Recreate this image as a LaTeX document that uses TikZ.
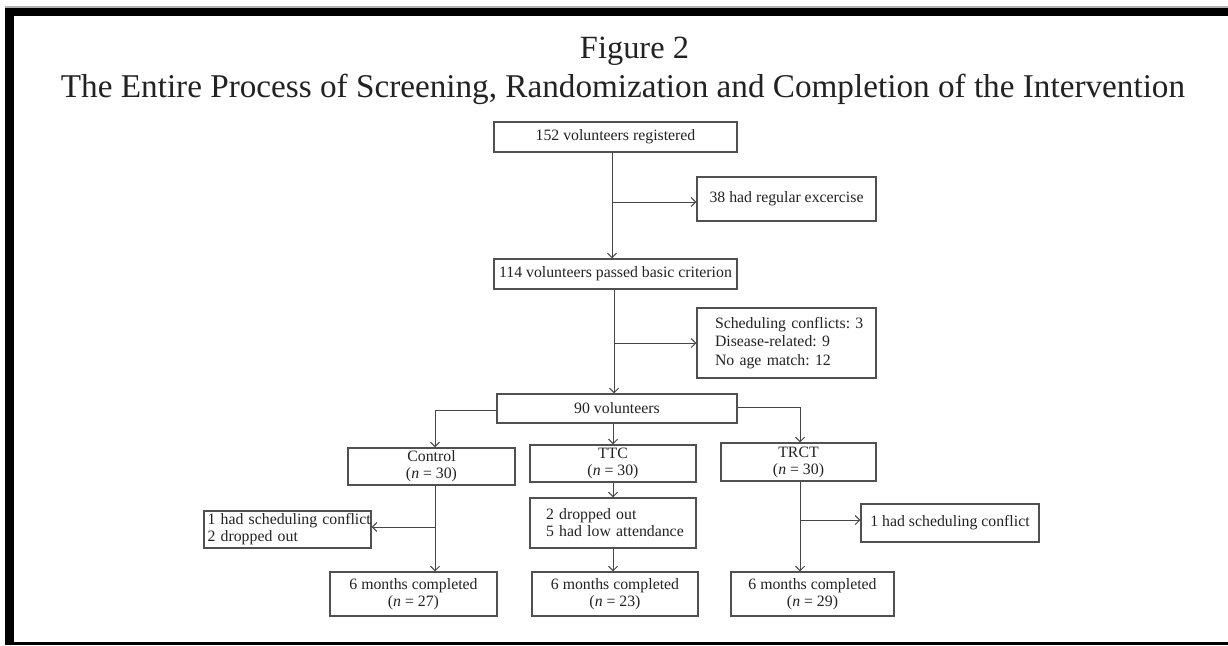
\documentclass[tikz,border=0pt]{standalone}
\usepackage{fontspec}
\setmainfont{Liberation Serif}
\usetikzlibrary{arrows.meta}
\definecolor{boxline}{HTML}{505050}
\definecolor{conline}{HTML}{454545}
\definecolor{txt}{HTML}{222222}
\newcommand{\ind}[1]{\hspace*{#1}}
\tikzset{
  box/.style={draw=boxline, line width=1.2pt, inner sep=0pt, text=txt,
    font=\fontsize{15.8}{17}\selectfont\frenchspacing, align=center},
  lbox/.style={box, align=left, inner xsep=0pt},
  con/.style={draw=conline, line width=1pt},
  arr/.style={con, -{Straight Barb[length=4.5pt,width=9pt]}},
}
\begin{document}
\begin{tikzpicture}[x=1pt,y=-1pt]
\useasboundingbox (0,0) rectangle (1228,645);
% frame
\fill[gray!60] (5,6) rectangle (1228,645);
\fill[black] (5,7.5) rectangle (1228,645);
\fill[white] (13.5,16) rectangle (1228,642);
% titles
\node[anchor=base, text=txt, inner sep=0pt] (fig) at (634.5,58) {\resizebox{109pt}{!}{Figure 2}};
\node[anchor=base, text=txt, inner sep=0pt] (title) at (623,97) {\resizebox{1124pt}{!}{The Entire Process of Screening, Randomization and Completion of the Intervention}};
% boxes
\node[box, minimum width=243pt, minimum height=30pt] (reg) at (615.5,137) {152 volunteers registered};
\node[box, minimum width=179pt, minimum height=44pt] (exc) at (786.5,199) {38 had regular excercise};
\node[box, minimum width=243pt, minimum height=30pt] (pass) at (615.5,274) {114 volunteers passed basic criterion};
\node[lbox, text width=179pt, minimum height=70pt, font=\fontsize{15.8}{18.5}\selectfont\frenchspacing] (sched) at (786.5,343) {\ind{18pt}Scheduling conflicts: 3\\\ind{18pt}Disease-related: 9\\\ind{18pt}No age match: 12};
\node[box, minimum width=240pt, minimum height=29pt] (ninety) at (617,408.5) {90 volunteers};
\node[box, minimum width=167pt, minimum height=37pt] (ctrl) at (431.5,466.5) {Control\\(\textit{n} = 30)};
\node[box, minimum width=166pt, minimum height=37pt] (ttc) at (613,463.5) {TTC\\(\textit{n} = 30)};
\node[box, minimum width=155pt, minimum height=38pt] (trct) at (798.5,462) {TRCT\\(\textit{n} = 30)};
\node[lbox, text width=167pt, minimum height=37pt] (lexc) at (287.5,529.5) {\ind{3.5pt}1 had scheduling conflict\\\ind{3.5pt}2 dropped out};
\node[lbox, text width=166pt, minimum height=50pt] (drop) at (613,523) {\ind{16pt}2 dropped out\\\ind{16pt}5 had low attendance};
\node[box, minimum width=178pt, minimum height=38pt] (rexc) at (950,523) {1 had scheduling conflict};
\node[box, minimum width=167pt, minimum height=44pt] (cb) at (413.5,594) {6 months completed\\(\textit{n} = 27)};
\node[box, minimum width=166pt, minimum height=44pt] (tb) at (615,594) {6 months completed\\(\textit{n} = 23)};
\node[box, minimum width=163pt, minimum height=44pt] (rb) at (812.5,594) {6 months completed\\(\textit{n} = 29)};
% junction coordinates
\coordinate (j1) at (612,202);
\coordinate (j2) at (614,343);
\coordinate (j3) at (435,410);
\coordinate (j4) at (800,407);
\coordinate (j5) at (435,527);
\coordinate (j6) at (800,520);
\coordinate (j7) at (613,0);
% connectors
\draw[arr] (reg.south -| j1) -- (pass.north -| j1);
\draw[arr] (j1) -- (exc.west |- j1);
\draw[arr] (pass.south -| j2) -- (ninety.north -| j2);
\draw[arr] (j2) -- (sched.west |- j2);
\draw[arr] (ninety.west |- j3) -- (j3) -- (ctrl.north -| j3);
\draw[arr] (ninety.south -| j7) -- (ttc.north -| j7);
\draw[arr] (ninety.east |- j4) -- (j4) -- (trct.north -| j4);
\draw[arr] (ctrl.south -| j5) -- (cb.north -| j5);
\draw[arr] (j5) -- (lexc.east |- j5);
\draw[arr] (ttc.south -| j7) -- (drop.north -| j7);
\draw[arr] (drop.south -| j7) -- (tb.north -| j7);
\draw[arr] (trct.south -| j6) -- (rb.north -| j6);
\draw[arr] (j6) -- (rexc.west |- j6);
\end{tikzpicture}
\end{document}
